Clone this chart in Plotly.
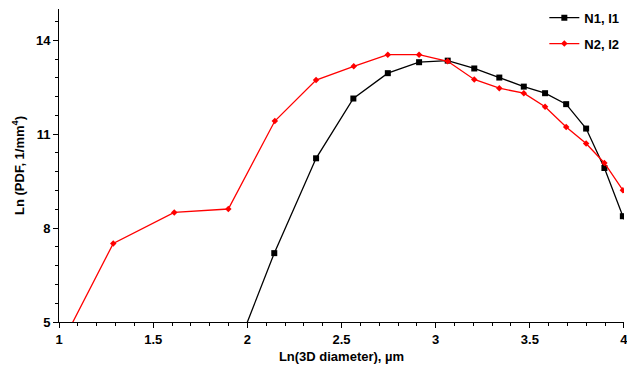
import plotly.graph_objects as go

# Ln(3D diameter) and Ln(PDF) for the two size distributions
x_n1 = [1.899, 2.143, 2.365, 2.563, 2.746, 2.912, 3.064, 3.205, 3.338, 3.468,
        3.581, 3.693, 3.799, 3.896, 3.994, 4.100]
y_n1 = [3.44, 7.20, 10.23, 12.14, 12.95, 13.30, 13.35, 13.10, 12.81, 12.52,
        12.31, 11.96, 11.18, 9.92, 8.38, 7.00]

x_n2 = [0.930, 1.288, 1.612, 1.899, 2.146, 2.365, 2.565, 2.746, 2.912, 3.064,
        3.205, 3.338, 3.468, 3.581, 3.693, 3.799, 3.896, 3.994, 4.100]
y_n2 = [3.32, 7.51, 8.50, 8.61, 11.42, 12.73, 13.17, 13.54, 13.54, 13.33,
        12.75, 12.47, 12.31, 11.88, 11.23, 10.70, 10.08, 9.21, 8.27]

x_ticks = [1, 1.5, 2, 2.5, 3, 3.5, 4]
y_ticks = [5, 8, 11, 14]

FONT = "Liberation Sans, Arial, sans-serif"

fig = go.Figure()
fig.add_trace(go.Scatter(
    x=x_n1, y=y_n1, name="<b>N1, I1</b>", mode="lines+markers",
    legendgroup="n1",
    line=dict(color="black", width=1.3),
    marker=dict(symbol="square", size=6, color="black"),
))
fig.add_trace(go.Scatter(
    x=x_n2, y=y_n2, name="<b>N2, I2</b>", mode="lines+markers",
    legendgroup="n2",
    line=dict(color="#ff0000", width=1.3),
    marker=dict(symbol="diamond", size=5, color="#ff0000"),
))

axis_common = dict(
    showline=True, linecolor="black", linewidth=1,
    ticks="outside", ticklen=5, tickcolor="black", tickwidth=1,
    showgrid=False, zeroline=False, automargin=False,
    ticklabeloverflow="allow",
    tickfont=dict(family=FONT, size=13, color="black", weight="bold"),
    title_font=dict(family=FONT, size=13, color="black", weight="bold"),
)

fig.update_xaxes(
    range=[0.9999, 4.0001], tickvals=x_ticks, ticktext=[str(v) for v in x_ticks],
    minor=dict(dtick=0.1, tick0=1, ticks="outside", ticklen=3,
               tickcolor="black", showgrid=False),
    title_text="Ln(3D diameter), µm", title_standoff=6,
    **axis_common,
)
fig.update_yaxes(
    range=[5, 15], tickvals=y_ticks, ticktext=[str(v) for v in y_ticks],
    minor=dict(dtick=0.6, tick0=5, ticks="outside", ticklen=3,
               tickcolor="black", showgrid=False),
    title_text="Ln (PDF, 1/mm<sup>4</sup>)", title_standoff=8,
    **axis_common,
)

fig.update_layout(
    width=627, height=365,
    margin=dict(l=59, r=3, t=9, b=43, autoexpand=False),
    plot_bgcolor="white", paper_bgcolor="white",
    legend=dict(
        x=0.859, y=1.02, xanchor="left", yanchor="top",
        bgcolor="rgba(0,0,0,0)", itemwidth=30,
        traceorder="grouped", tracegroupgap=6,
        font=dict(family=FONT, size=13, color="black"),
    ),
)

fig.write_html("out.html")
